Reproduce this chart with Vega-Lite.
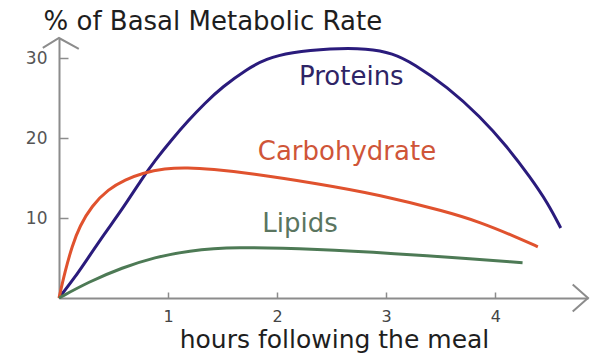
{
  "$schema": "https://vega.github.io/schema/vega-lite/v6.json",
  "width": 529,
  "height": 260,
  "autosize": "none",
  "padding": {"left": 59, "top": 38, "right": 12, "bottom": 60},
  "background": "white",
  "config": {"view": {"stroke": null}, "font": "DejaVu Sans"},
  "encoding": {
    "x": {
      "field": "hours", "type": "quantitative",
      "scale": {"domain": [0, 4.85], "nice": false, "zero": false},
      "axis": {
        "values": [1, 2, 3, 4], "grid": false, "title": "hours following the meal",
        "domainColor": "#8c8c8c", "domainWidth": 2, "tickColor": "#8c8c8c", "tickWidth": 1.5,
        "tickSize": -6, "labelPadding": 16, "labelFontSize": 16, "labelColor": "#444444",
        "labelFont": "DejaVu Sans", "titleFont": "DejaVu Sans", "titleFontSize": 25,
        "titleFontWeight": "normal", "titleColor": "#1e1e1e", "titleX": 275, "titleY": 49,
        "titleBaseline": "alphabetic", "titleAlign": "center"
      }
    },
    "y": {
      "field": "pct", "type": "quantitative",
      "scale": {"domain": [0, 32.5], "nice": false},
      "axis": {
        "values": [10, 20, 30], "grid": false, "title": "% of Basal Metabolic Rate",
        "domainColor": "#8c8c8c", "domainWidth": 2, "tickColor": "#8c8c8c", "tickWidth": 1.5,
        "tickSize": -9, "labelPadding": 21, "labelFontSize": 17, "labelColor": "#555555",
        "labelFont": "DejaVu Sans", "titleFont": "DejaVu Sans", "titleFontSize": 26,
        "titleFontWeight": "normal", "titleColor": "#1e1e1e", "titleAngle": 0,
        "titleX": -16, "titleY": -9, "titleAlign": "left", "titleBaseline": "alphabetic"
      }
    }
  },
  "layer": [
    {
      "data": {"values": [
        {"series": "Proteins", "hours": 0, "pct": 0},
        {"series": "Proteins", "hours": 0.147, "pct": 2.6},
        {"series": "Proteins", "hours": 0.266, "pct": 5.0},
        {"series": "Proteins", "hours": 0.42, "pct": 8.1},
        {"series": "Proteins", "hours": 0.58, "pct": 11.1},
        {"series": "Proteins", "hours": 0.76, "pct": 14.9},
        {"series": "Proteins", "hours": 0.88, "pct": 17.2},
        {"series": "Proteins", "hours": 1.04, "pct": 19.9},
        {"series": "Proteins", "hours": 1.18, "pct": 22.1},
        {"series": "Proteins", "hours": 1.34, "pct": 24.4},
        {"series": "Proteins", "hours": 1.5, "pct": 26.4},
        {"series": "Proteins", "hours": 1.72, "pct": 28.6},
        {"series": "Proteins", "hours": 1.9, "pct": 29.9},
        {"series": "Proteins", "hours": 2.12, "pct": 30.7},
        {"series": "Proteins", "hours": 2.49, "pct": 31.2},
        {"series": "Proteins", "hours": 2.83, "pct": 31.2},
        {"series": "Proteins", "hours": 3.06, "pct": 30.6},
        {"series": "Proteins", "hours": 3.25, "pct": 29.3},
        {"series": "Proteins", "hours": 3.56, "pct": 26.4},
        {"series": "Proteins", "hours": 3.86, "pct": 22.7},
        {"series": "Proteins", "hours": 4.11, "pct": 18.9},
        {"series": "Proteins", "hours": 4.32, "pct": 15.1},
        {"series": "Proteins", "hours": 4.48, "pct": 11.9},
        {"series": "Proteins", "hours": 4.6, "pct": 8.75},
        {"series": "Carbohydrate", "hours": 0, "pct": 0},
        {"series": "Carbohydrate", "hours": 0.055, "pct": 3.3},
        {"series": "Carbohydrate", "hours": 0.12, "pct": 6.5},
        {"series": "Carbohydrate", "hours": 0.19, "pct": 9.0},
        {"series": "Carbohydrate", "hours": 0.3, "pct": 11.5},
        {"series": "Carbohydrate", "hours": 0.45, "pct": 13.6},
        {"series": "Carbohydrate", "hours": 0.61, "pct": 14.8},
        {"series": "Carbohydrate", "hours": 0.76, "pct": 15.6},
        {"series": "Carbohydrate", "hours": 0.97, "pct": 16.2},
        {"series": "Carbohydrate", "hours": 1.18, "pct": 16.3},
        {"series": "Carbohydrate", "hours": 1.4, "pct": 16.1},
        {"series": "Carbohydrate", "hours": 1.75, "pct": 15.6},
        {"series": "Carbohydrate", "hours": 2.37, "pct": 14.3},
        {"series": "Carbohydrate", "hours": 2.94, "pct": 12.9},
        {"series": "Carbohydrate", "hours": 3.55, "pct": 10.8},
        {"series": "Carbohydrate", "hours": 3.86, "pct": 9.5},
        {"series": "Carbohydrate", "hours": 4.23, "pct": 7.4},
        {"series": "Carbohydrate", "hours": 4.39, "pct": 6.4},
        {"series": "Lipids", "hours": 0, "pct": 0},
        {"series": "Lipids", "hours": 0.27, "pct": 2.0},
        {"series": "Lipids", "hours": 0.58, "pct": 3.8},
        {"series": "Lipids", "hours": 0.88, "pct": 5.1},
        {"series": "Lipids", "hours": 1.18, "pct": 5.9},
        {"series": "Lipids", "hours": 1.6, "pct": 6.4},
        {"series": "Lipids", "hours": 2.37, "pct": 6.1},
        {"series": "Lipids", "hours": 3.13, "pct": 5.5},
        {"series": "Lipids", "hours": 3.56, "pct": 5.1},
        {"series": "Lipids", "hours": 4.25, "pct": 4.4}
      ]},
      "mark": {"type": "line", "interpolate": "basis", "strokeWidth": 3},
      "encoding": {
        "color": {
          "field": "series", "type": "nominal", "legend": null,
          "scale": {"domain": ["Proteins", "Carbohydrate", "Lipids"], "range": ["#2a1b7c", "#e0522e", "#4d7a55"]}
        }
      }
    },
    {
      "data": {"values": [
        {"series": "Proteins", "hours": 2.68, "pct": 26.6},
        {"series": "Carbohydrate", "hours": 2.64, "pct": 17.2},
        {"series": "Lipids", "hours": 2.21, "pct": 8.25}
      ]},
      "mark": {"type": "text", "fontSize": 26, "align": "center", "baseline": "alphabetic", "font": "DejaVu Sans"},
      "encoding": {
        "text": {"field": "series", "type": "nominal"},
        "color": {
          "field": "series", "type": "nominal", "legend": null,
          "scale": {"domain": ["Proteins", "Carbohydrate", "Lipids"], "range": ["#2e2466", "#cf5538", "#5a7560"]}
        }
      }
    },
    {
      "data": {"values": [{"hours": 0, "pct": 32.5}]},
      "mark": {"type": "point", "shape": "M-0.9,0.55L0,0L1.1,0.6", "filled": false, "stroke": "#8c8c8c", "strokeWidth": 2, "size": 1296, "opacity": 1}
    },
    {
      "data": {"values": [{"hours": 4.85, "pct": 0}]},
      "mark": {"type": "point", "shape": "M-0.85,-0.75L0,0L-0.85,0.75", "filled": false, "stroke": "#8c8c8c", "strokeWidth": 2, "size": 1296, "opacity": 1}
    }
  ],
  "resolve": {"scale": {"color": "independent"}}
}
